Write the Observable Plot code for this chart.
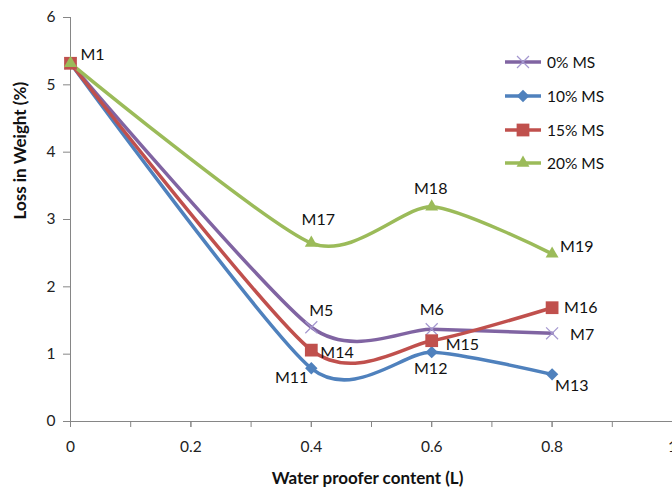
<!DOCTYPE html>
<html>
<head>
<meta charset="utf-8">
<script src="https://cdn.jsdelivr.net/npm/d3@7"></script>
<script src="https://cdn.jsdelivr.net/npm/@observablehq/plot@0.6"></script>
<style>
  html, body { margin: 0; padding: 0; background: #fff; }
  #wrap { position: relative; width: 672px; height: 495px; overflow: hidden; font-family: Lato, "Open Sans", sans-serif; }
  #legend { position: absolute; left: 0; top: 0; }
  .lg-row { position: absolute; left: 503px; height: 20px; display: flex; align-items: center; white-space: nowrap; }
  .lg-row span { font-size: 15.5px; color: #111; margin-left: 4px; white-space: nowrap; }
</style>
</head>
<body>
<div id="wrap"><div id="legend"></div></div>
<script>
// ---- data ----
const xValues = [0, 0.4, 0.6, 0.8];
const seriesNames = ["0% MS", "10% MS", "15% MS", "20% MS"];
const ms0  = [5.32, 1.40, 1.37, 1.31];
const ms10 = [5.32, 0.79, 1.03, 0.70];
const ms15 = [5.32, 1.06, 1.20, 1.69];
const ms20 = [5.32, 2.65, 3.19, 2.49];
const labels0  = ["M1", "M5", "M6", "M7"];
const labels10 = ["", "M11", "M12", "M13"];
const labels15 = ["", "M14", "M15", "M16"];
const labels20 = ["", "M17", "M18", "M19"];
const xTicks = [0, 0.2, 0.4, 0.6, 0.8, 1];
const xMinorTicks = [0, 0.1, 0.2, 0.3, 0.4, 0.5, 0.6, 0.7, 0.8, 0.9, 1];
const yTicks = [0, 1, 2, 3, 4, 5, 6];

// ---- styles ----
const colors = ["#8064A2", "#4F81BD", "#C0504D", "#9BBB59"];
const symbols = ["times", "diamond2", "square", "triangle"];
const radii = [5.5, 5.6, 7.2, 4.8];
const allValues = [ms0, ms10, ms15, ms20];
const allLabels = [labels0, labels10, labels15, labels20];
// label offsets [anchor, dx, dy] per point
const labelOffsets = [
  [["start", 10, -8], ["middle", 10, -16], ["middle", 0, -19], ["start", 18, 2]],
  [null, ["end", -3, 10], ["middle", -1, 17], ["start", 3, 12]],
  [null, ["start", 9, 3], ["start", 14, 4], ["start", 12, 0]],
  [null, ["middle", 7, -23], ["middle", -1, -18], ["start", 8, -7]]
];

const rows = [];
allValues.forEach((vals, s) => vals.forEach((v, i) => rows.push({
  series: seriesNames[s], s, x: xValues[i], y: v, label: allLabels[s][i], off: labelOffsets[s][i]
})));

const marks = [
  Plot.ruleY([0], {stroke: "#868686", strokeWidth: 1}),
  Plot.ruleX([0], {stroke: "#868686", strokeWidth: 1}),
  Plot.axisX({ticks: xMinorTicks, tickSize: 6, tickFormat: () => "", stroke: "#868686", label: null}),
  Plot.axisX({ticks: xTicks, tickSize: 6, tickPadding: 13, fontSize: 15.5, tickFormat: d => String(d), stroke: "#868686", color: "#222", label: null}),
  Plot.axisY({ticks: yTicks, tickSize: 7, tickPadding: 8, fontSize: 15.5, tickFormat: d => String(d), stroke: "#868686", color: "#222", label: null}),
  Plot.text(["Water proofer content (L)"], {frameAnchor: "bottom", dx: -4, dy: 62, fontSize: 17, fontWeight: "bold", fill: "#111"}),
  Plot.text(["Loss in Weight (%)"], {frameAnchor: "left", dx: -50, rotate: -90, fontSize: 17, fontWeight: "bold", fill: "#111"})
];

seriesNames.forEach((name, s) => {
  const data = rows.filter(r => r.s === s);
  marks.push(Plot.line(data, {x: "x", y: "y", stroke: colors[s], strokeWidth: 3.5, curve: "cardinal", tension: 0.3}));
});
seriesNames.forEach((name, s) => {
  const data = rows.filter(r => r.s === s);
  if (symbols[s] === "times") {
    marks.push(Plot.dot(data, {x: "x", y: "y", symbol: "times", r: radii[s], stroke: "#A497CF", strokeWidth: 1.2}));
  } else {
    marks.push(Plot.dot(data, {x: "x", y: "y", symbol: symbols[s], r: radii[s], fill: colors[s], stroke: "none"}));
  }
});
rows.filter(r => r.label).forEach(d => {
  marks.push(Plot.text([d], {x: "x", y: "y", text: "label", textAnchor: d.off[0], dx: d.off[1], dy: d.off[2], fontSize: 16, fill: "#111"}));
});

const chart = Plot.plot({
  width: 672,
  height: 495,
  marginLeft: 70,
  marginRight: 0,
  marginTop: 17,
  marginBottom: 74,
  style: {fontFamily: "Lato, 'Open Sans', sans-serif", background: "#fff", overflow: "visible"},
  x: {domain: [0, 1]},
  y: {domain: [0, 6]},
  marks
});
const wrap = document.getElementById("wrap");
wrap.insertBefore(chart, wrap.firstChild);

// ---- legend ----
const legend = document.getElementById("legend");
const rowY = [62, 96, 130, 163];
const typeMap = {times: d3.symbolTimes, diamond2: d3.symbolDiamond2, square: d3.symbolSquare, triangle: d3.symbolTriangle};
seriesNames.forEach((name, s) => {
  const row = document.createElement("div");
  row.className = "lg-row";
  row.style.top = (rowY[s] - 10) + "px";
  const svg = d3.create("svg").attr("width", 40).attr("height", 20);
  svg.append("line").attr("x1", 2).attr("x2", 38).attr("y1", 10).attr("y2", 10)
    .attr("stroke", colors[s]).attr("stroke-width", 3.5);
  const sym = d3.symbol(typeMap[symbols[s]], Math.PI * radii[s] * radii[s]);
  const p = svg.append("path").attr("d", sym()).attr("transform", "translate(20,10)");
  if (symbols[s] === "times") p.attr("fill", "none").attr("stroke", "#A497CF").attr("stroke-width", 1.2);
  else p.attr("fill", colors[s]);
  row.appendChild(svg.node());
  const span = document.createElement("span");
  span.textContent = name;
  row.appendChild(span);
  legend.appendChild(row);
});
</script>
</body>
</html>
